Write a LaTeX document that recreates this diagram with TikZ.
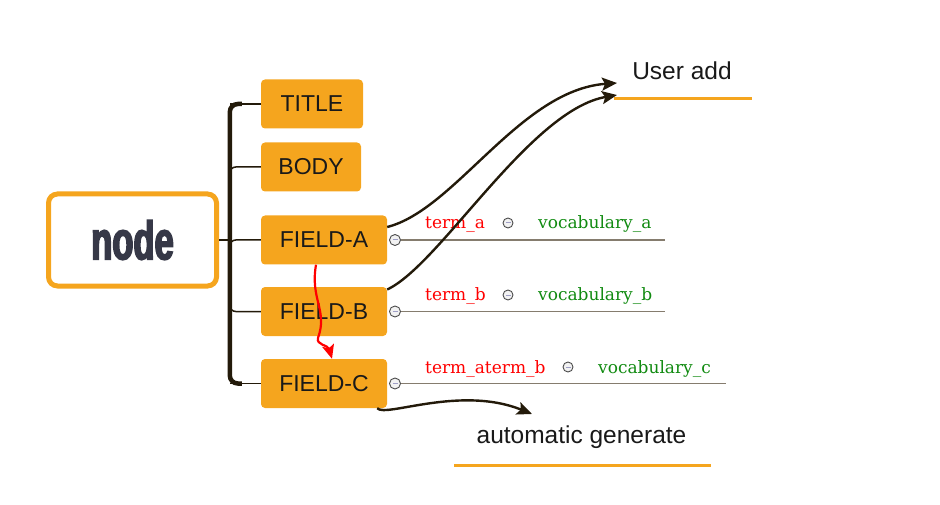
\documentclass[tikz,border=0pt]{standalone}
\usepackage{fontspec}
\setmainfont{Liberation Sans}
\newfontfamily\slabfont{DejaVu Serif}
\newfontfamily\bigfont{Liberation Sans Bold}[FakeStretch=0.64,FakeBold=3]
\usetikzlibrary{calc,arrows.meta}
\definecolor{orng}{HTML}{F5A51E}
\definecolor{ink}{HTML}{231A0A}
\definecolor{nodetxt}{HTML}{363847}
\definecolor{lgrey}{HTML}{857C6E}
\definecolor{vgreen}{HTML}{108A10}
\tikzset{
  field/.style={fill=orng, rounded corners=4pt, minimum height=49pt, inner sep=0pt, font=\fontsize{23}{25}\selectfont, text=black!90},
  spine/.style={draw=ink, line width=4.5pt},
  branch/.style={draw=ink, line width=1.5pt},
  mcirc/.style={circle, draw=black!70, fill=black!5, line width=0.9pt, minimum size=11pt, inner sep=0pt,
     path picture={\draw[blue!25!gray!60, line width=1pt] ([xshift=-2.5pt]path picture bounding box.center) -- ([xshift=2.5pt]path picture bounding box.center);}},
  termtxt/.style={font=\slabfont\fontsize{17}{19}\selectfont, text=red, inner sep=0pt},
  voctxt/.style={font=\slabfont\fontsize{17}{19}\selectfont, text=vgreen, inner sep=0pt},
  hline/.style={draw=lgrey, line width=1.8pt},
  uline/.style={draw=orng, line width=3pt},
  labeltxt/.style={font=\fontsize{24.5}{26}\selectfont, text=black!90, inner sep=0pt},
  link/.style={draw=ink, line width=2.4pt, -{Stealth[length=15pt,width=13pt,inset=3pt]}},
}
\begin{document}
\begin{tikzpicture}[x=1pt,y=-1pt]
\useasboundingbox (0,0) rectangle (940,505);
% central node
\node[draw=orng, line width=5pt, rounded corners=9pt, minimum width=168pt, minimum height=92pt, inner sep=0pt,
  font=\bigfont\fontsize{54}{56}\selectfont, text=nodetxt] (nodebox) at (132.5,240) {node};
% fields
\node[field, minimum width=102pt] (title) at (312,104) {TITLE};
\node[field, minimum width=100pt] (body) at (311,167) {BODY};
\node[field, minimum width=126pt] (fa) at (324,240) {FIELD-A};
\node[field, minimum width=126pt] (fb) at (324,311.5) {FIELD-B};
\node[field, minimum width=126pt] (fc) at (324,383.5) {FIELD-C};
% spine
\coordinate (st) at ($(title.west)+(-31,0)$);
\coordinate (sb) at ($(fc.west)+(-31,0)$);
\draw[spine, rounded corners=8pt] ($(st)+(12,0)$) -- (st) -- (sb) -- ($(sb)+(12,0)$);
\draw[branch] (title.west) -- (st);
\draw[branch] (fc.west) -- (sb);
\draw[branch, rounded corners=6pt] (body.west) -- (body.west -| st) -- ($(body.west -| st)+(0,8)$);
\draw[branch, rounded corners=6pt] (fa.west) -- (fa.west -| st) -- ($(fa.west -| st)+(0,8)$);
\draw[branch, rounded corners=6pt] (fb.west) -- (fb.west -| st) -- ($(fb.west -| st)+(0,-8)$);
\draw[branch] (nodebox.east) -- (fa.west -| st);
% right side rows
\node[mcirc] (ca) at (395,240) {};
\node[mcirc] (cb) at (395,311.5) {};
\node[mcirc] (cc) at (395,383.5) {};
\coordinate (ea) at (665,240);
\coordinate (eb) at (665,311.5);
\coordinate (ec) at (726,383.5);
\draw[hline] (ca.east) -- (ea);
\draw[hline] (cb.east) -- (eb);
\draw[hline] (cc.east) -- (ec);
\node[termtxt, anchor=base west] (ta) at (425,229) {term\_a};
\node[mcirc, minimum size=10pt] (ma) at (508,223) {};
\node[voctxt, anchor=base west] (va) at (538,229) {vocabulary\_a};
\node[termtxt, anchor=base west] (tb) at (425,301) {term\_b};
\node[mcirc, minimum size=10pt] (mb) at (508,295) {};
\node[voctxt, anchor=base west] (vb) at (538,301) {vocabulary\_b};
\node[termtxt, anchor=base west] (tc) at (425,373) {term\_aterm\_b};
\node[mcirc, minimum size=10pt] (mc) at (568,367) {};
\node[voctxt, anchor=base west] (vc) at (598,373) {vocabulary\_c};
% labels
\node[labeltxt] (user) at (682,71) {User add};
\coordinate (u1) at (614,99);
\coordinate (u2) at (752,99);
\draw[uline] (u1) -- (u2);
\node[labeltxt] (auto) at (581.5,437) {automatic generate};
\coordinate (g1) at (454,465);
\coordinate (g2) at (711,465);
\draw[uline] (g1) -- (g2);
% arrows
\coordinate (ua) at (617,83);
\coordinate (ub) at (617,95);
\draw[link] ([yshift=13pt]fa.east) .. controls (455,210) and (520,90) .. (ua);
\draw[link] ([yshift=22pt]fb.east) .. controls (440,265) and (530,110) .. (ub);
\coordinate (ga) at (532,414);
\draw[link] ([xshift=-10pt]fc.south east) .. controls (385,418) and (460,385) .. (ga);
\draw[draw=red, line width=2.2pt, -{Stealth[length=14pt,width=12pt,inset=3pt]}] ([xshift=-8pt]fa.south) .. controls (310,300) and (328,310) .. (318,338) .. controls (316,345) and (328,345) .. (fc.north -| 332,0);
\end{tikzpicture}
\end{document}
